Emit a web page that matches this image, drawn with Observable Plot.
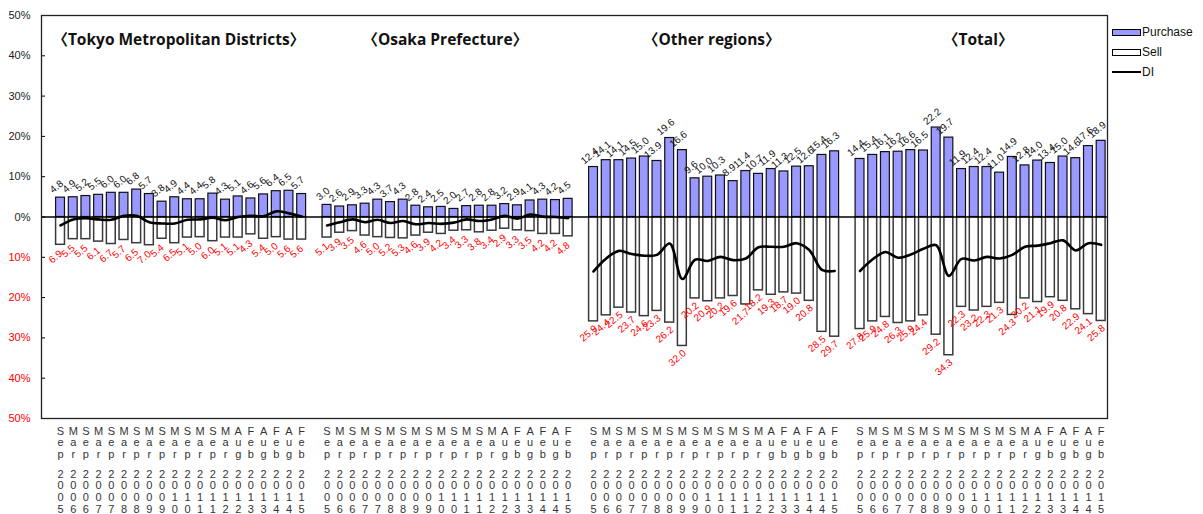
<!DOCTYPE html>
<html>
<head>
<meta charset="utf-8">
<script src="https://cdn.jsdelivr.net/npm/d3@7"></script>
<script src="https://cdn.jsdelivr.net/npm/@observablehq/plot@0.6"></script>
<style>
  body { margin: 0; background: #fff; }
  #chart { position: relative; width: 1203px; height: 514px; }
  .legend { position: absolute; left: 1112px; top: 22px; font: 12px "Liberation Sans", Arial, sans-serif; color: #111; }
  .legend div { display: flex; align-items: center; height: 20px; }
  .legend .sw { width: 27px; height: 5px; border: 1px solid #000; margin-right: 1px; }
  .legend .ln { width: 29px; height: 0; border-top: 2.5px solid #000; margin-right: 1px; }
</style>
</head>
<body>
<div id="chart"></div>
<script>
// Survey periods (half-yearly)
const periods = [
  "Sep 2005", "Mar 2006", "Sep 2006", "Mar 2007", "Sep 2007", "Mar 2008", "Sep 2008",
  "Mar 2009", "Sep 2009", "Mar 2010", "Sep 2010", "Mar 2011", "Sep 2011", "Mar 2012",
  "Aug 2012", "Feb 2013", "Aug 2013", "Feb 2014", "Aug 2014", "Feb 2015"
];

const regions = ["Tokyo Metropolitan Districts", "Osaka Prefecture", "Other regions", "Total"];

// Share of respondents planning to purchase / sell (%), and the DI (purchase − sell)
const tokyoPurchase = [4.8, 4.9, 5.2, 5.5, 6.0, 6.0, 6.8, 5.7, 3.8, 4.9, 4.4, 4.4, 5.8, 4.3, 5.1, 4.6, 5.6, 6.4, 6.5, 5.7];
const tokyoSell     = [6.9, 5.5, 5.5, 6.1, 6.7, 5.7, 6.5, 7.0, 5.4, 6.5, 5.1, 5.0, 6.0, 5.1, 5.1, 4.3, 5.4, 5.0, 5.6, 5.6];
const tokyoDI       = [-2.1, -0.6, -0.3, -0.6, -0.7, 0.3, 0.3, -1.3, -1.6, -1.6, -0.7, -0.6, -0.2, -0.8, 0.0, 0.3, 0.2, 1.4, 0.9, 0.1];

const osakaPurchase = [3.0, 2.6, 2.9, 3.3, 4.3, 3.7, 4.3, 2.8, 2.4, 2.5, 2.0, 2.7, 2.8, 2.8, 3.2, 2.9, 4.1, 4.3, 4.2, 4.5];
const osakaSell     = [5.1, 3.9, 3.5, 4.6, 5.0, 5.2, 5.3, 4.6, 3.9, 4.2, 3.4, 3.3, 3.8, 3.4, 2.9, 3.3, 3.5, 4.2, 4.2, 4.8];
const osakaDI       = [-2.1, -1.3, -0.6, -1.3, -0.7, -1.5, -1.0, -1.8, -1.5, -1.7, -1.4, -0.6, -1.0, -0.6, 0.3, -0.4, 0.6, 0.1, 0.0, -0.3];

const otherPurchase = [12.4, 14.1, 14.1, 14.5, 15.0, 13.9, 19.6, 16.6, 9.6, 10.0, 10.3, 8.9, 11.4, 10.7, 11.9, 11.3, 12.5, 12.6, 15.4, 16.3];
const otherSell     = [25.9, 24.4, 22.5, 23.7, 24.6, 23.3, 26.2, 32.0, 20.2, 20.9, 20.2, 19.6, 21.7, 18.2, 19.3, 18.7, 19.0, 20.8, 28.5, 29.7];
const otherDI       = [-13.5, -10.3, -8.4, -9.2, -9.6, -9.4, -6.6, -15.4, -10.6, -10.9, -9.9, -10.7, -10.3, -7.5, -7.4, -7.4, -6.5, -8.2, -13.1, -13.4];

const totalPurchase = [14.4, 15.4, 16.1, 16.2, 16.6, 16.5, 22.2, 19.7, 11.9, 12.4, 12.4, 11.0, 14.9, 12.8, 14.0, 13.4, 15.0, 14.6, 17.6, 18.9];
const totalSell     = [27.8, 25.9, 24.8, 26.3, 25.9, 24.4, 29.2, 34.3, 22.3, 23.2, 22.3, 21.3, 24.3, 20.2, 21.1, 19.9, 20.8, 22.9, 24.1, 25.8];
const totalDI       = [-13.4, -10.5, -8.7, -10.1, -9.3, -7.9, -7.0, -14.6, -10.4, -10.8, -9.9, -10.3, -9.4, -7.4, -7.1, -6.5, -5.8, -8.3, -6.5, -6.9];

const yTicks = [-50, -40, -30, -20, -10, 0, 10, 20, 30, 40, 50];

// Long-format table: each region occupies 20 slots, separated by one empty slot
const series = [
  {purchase: tokyoPurchase, sell: tokyoSell, di: tokyoDI},
  {purchase: osakaPurchase, sell: osakaSell, di: osakaDI},
  {purchase: otherPurchase, sell: otherSell, di: otherDI},
  {purchase: totalPurchase, sell: totalSell, di: totalDI}
];
const slotsPerRegion = periods.length + 1;
const rows = series.flatMap((s, r) => periods.map((p, i) => ({
  region: regions[r],
  key: r * slotsPerRegion + 1 + i,
  month: p.slice(0, 3),
  year: p.slice(4),
  purchase: s.purchase[i],
  sell: s.sell[i],
  di: s.di[i]
})));
const keys = d3.range(regions.length * slotsPerRegion);
const titles = regions.map((name, r) => ({
  text: "\u3008" + name + "\u3009",
  key: r * slotsPerRegion + 1 + periods.length / 2 - 1
}));

const vertical = (s) => s.split("").join("\n");

const chart = Plot.plot({
  width: 1203,
  height: 514,
  marginLeft: 41,
  marginRight: 96,
  marginTop: 15,
  marginBottom: 96,
  style: {fontFamily: "'Liberation Sans', Arial, sans-serif", fontSize: "11px", background: "#fff", overflow: "visible"},
  x: {type: "band", domain: keys, paddingInner: 0.3, paddingOuter: 0.15, axis: null},
  y: {domain: [-50, 50], axis: null},
  color: {type: "identity"},
  marks: [
    // y axis: inward ticks and labels (negative side in red, shown as magnitude)
    Plot.axisY(yTicks, {tickSize: 4, dx: 4, tickFormat: () => "", stroke: "#000", label: null}),
    Plot.text(yTicks, {
      y: (d) => d, text: (d) => Math.abs(d) + "%", frameAnchor: "left", textAnchor: "end",
      dx: -11, fontSize: 11, fill: (d) => (d < 0 ? "#ff0000" : "#222")
    }),
    // Sell bars below zero
    Plot.barY(rows, {x: "key", y: (d) => -d.sell, fill: "#fff", stroke: "#3a3a3a", strokeWidth: 1.5}),
    // Purchase bars above zero
    Plot.barY(rows, {x: "key", y: "purchase", fill: "#9999ff", stroke: "#111", strokeWidth: 1.2}),
    Plot.ruleY([0], {stroke: "#000", strokeWidth: 1.5}),
    // DI line, one per region
    Plot.line(rows, {x: "key", y: "di", z: "region", stroke: "#000", strokeWidth: 2.6, curve: "catmull-rom"}),
    // Value labels
    Plot.text(rows, {
      x: "key", y: "purchase", text: (d) => d.purchase.toFixed(1), rotate: -40,
      dy: -11, dx: -4, fontSize: 10, fill: "#111"
    }),
    Plot.text(rows, {
      x: "key", y: (d) => -d.sell, text: (d) => d.sell.toFixed(1), rotate: -40,
      dy: 12, dx: -5, fontSize: 10, fill: "#ff0000"
    }),
    // Region titles
    Plot.text(titles, {
      x: "key", text: "text", frameAnchor: "top", dy: 18, dx: 4, textAnchor: "middle",
      fontSize: 15.5, fontWeight: "bold", fill: "#111",
      fontFamily: "'Open Sans', 'Noto Sans CJK JP', sans-serif"
    }),
    // Period labels stacked vertically under each slot
    Plot.text(rows, {
      x: "key", text: (d) => vertical(d.month), frameAnchor: "bottom", lineAnchor: "top",
      dy: 8, lineHeight: 1.06, fontSize: 11, fill: "#333"
    }),
    Plot.text(rows, {
      x: "key", text: (d) => vertical(d.year), frameAnchor: "bottom", lineAnchor: "top",
      dy: 51, lineHeight: 1.06, fontSize: 11, fill: "#333"
    }),
    Plot.frame({stroke: "#222", strokeWidth: 1.3})
  ]
});

const container = document.getElementById("chart");
container.appendChild(chart);

// Legend to the right of the plotting area
const legend = document.createElement("div");
legend.className = "legend";
legend.innerHTML =
  '<div><span class="sw" style="background:#9999ff"></span>Purchase</div>' +
  '<div><span class="sw" style="background:#fff"></span>Sell</div>' +
  '<div><span class="ln"></span>DI</div>';
container.appendChild(legend);
</script>
</body>
</html>
